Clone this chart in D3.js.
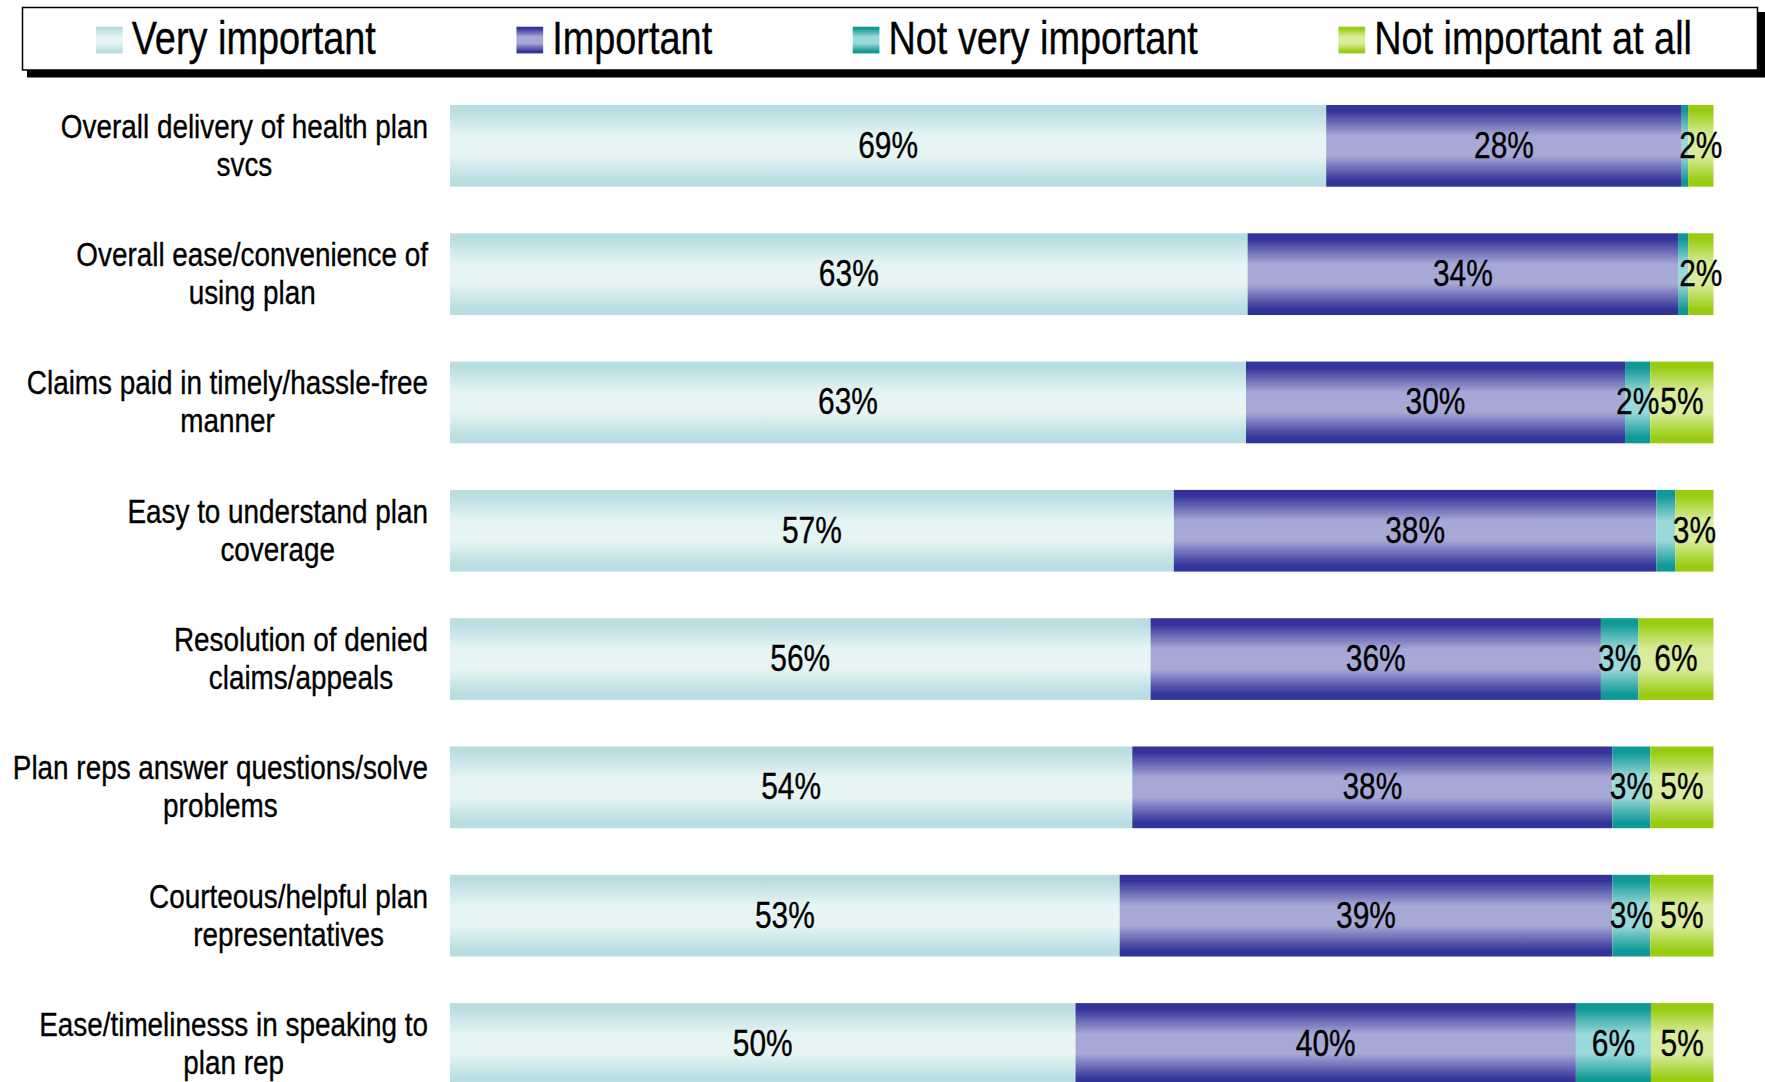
<!DOCTYPE html>
<html>
<head>
<meta charset="utf-8">
<script src="https://cdn.jsdelivr.net/npm/d3@7"></script>
<style>
  html, body { margin: 0; padding: 0; background: #fff; }
  svg { display: block; }
  text { font-family: "Liberation Sans", Arial, sans-serif; fill: #000; stroke: #000; stroke-width: 0.35px; }
</style>
</head>
<body>
<svg id="chart" width="1765" height="1082"></svg>
<script>
// Survey items (line breaks mark where each label wraps)
const categories = [
  "Overall delivery of health plan\nsvcs",
  "Overall ease/convenience of\nusing plan",
  "Claims paid in timely/hassle-free\nmanner",
  "Easy to understand plan\ncoverage",
  "Resolution of denied\nclaims/appeals",
  "Plan reps answer questions/solve\nproblems",
  "Courteous/helpful plan\nrepresentatives",
  "Ease/timelinesss in speaking to\nplan rep"
];
const seriesNames = ["Very important", "Important", "Not very important", "Not important at all"];

// Share of respondents (%) per rating
const veryImportant     = [69, 63, 63, 57, 56, 54, 53, 50];
const important         = [28, 34, 30, 38, 36, 38, 39, 40];
const notVeryImportant  = [0.5, 0.8, 2, 1.5, 3, 3, 3, 6];
const notImportantAtAll = [2, 2, 5, 3, 6, 5, 5, 5];

// Vertical gradient colours: [edge, middle]
const palette = [
  ["#b8dee2", "#e6f4f4"],
  ["#333399", "#a6a8d6"],
  ["#0f9896", "#9ad9d9"],
  ["#99cc11", "#d9ec9c"]
];

const W = 1765, H = 1082;
const svg = d3.select("#chart");
const defs = svg.append("defs");

palette.forEach((c, i) => {
  const g = defs.append("linearGradient")
    .attr("id", "grad" + i)
    .attr("x1", 0).attr("y1", 0).attr("x2", 0).attr("y2", 1);
  [[0, c[0]], [0.07, c[0]], [0.38, c[1]], [0.62, c[1]], [0.93, c[0]], [1, c[0]]]
    .forEach(([o, col]) => g.append("stop").attr("offset", o).attr("stop-color", col));
});

const seriesValues = [veryImportant, important, notVeryImportant, notImportantAtAll];
const rows = categories.map((c, i) => {
  const r = { category: c };
  seriesNames.forEach((s, k) => { r[s] = seriesValues[k][i]; });
  return r;
});

// 100% stacked layout
const stack = d3.stack().keys(seriesNames).offset(d3.stackOffsetExpand);
const layers = stack(rows);

const x = d3.scaleLinear().domain([0, 1]).range([450, 1713.5]);
const step = 128.3;
const y = d3.scaleBand()
  .domain(categories)
  .range([81.7, 81.7 + step * categories.length])
  .paddingInner(0.363)
  .paddingOuter(0.1815);

// Condensed text: regular sans squeezed horizontally
const NARROW = 0.82;
function narrowText(sel, px, py, str, size, anchor) {
  return sel.append("text")
    .attr("transform", `translate(${px},${py}) scale(${NARROW},1)`)
    .attr("text-anchor", anchor || "start")
    .style("font-size", size + "px")
    .text(str);
}
function narrowWidth(sel, str, size) {
  const t = narrowText(sel, 0, -200, str, size);
  const w = t.node().getComputedTextLength() * NARROW;
  t.remove();
  return w;
}

// ---- Legend ----
const lg = svg.append("g");
lg.append("rect").attr("x", 27).attr("y", 12).attr("width", W - 27).attr("height", 65.5).attr("fill", "#000");
lg.append("rect").attr("x", 22.5).attr("y", 7.5).attr("width", 1735).attr("height", 62.5)
  .attr("fill", "#fff").attr("stroke", "#000").attr("stroke-width", 1.5);

const legFont = 46.2, sw = 26.7, swGap = 9;
const legLeft = 96, legRight = 1692;
const itemW = seriesNames.map(s => sw + swGap + narrowWidth(lg, s, legFont));
const gap = (legRight - legLeft - d3.sum(itemW)) / (seriesNames.length - 1);
let lx = legLeft;
seriesNames.forEach((s, i) => {
  lg.append("rect").attr("x", lx).attr("y", 26.7).attr("width", sw).attr("height", sw)
    .attr("fill", `url(#grad${i})`);
  narrowText(lg, lx + sw + swGap, 53.5, s, legFont);
  lx += itemW[i] + gap;
});

// ---- Bars ----
const barG = svg.append("g");
layers.forEach((layer, i) => {
  barG.append("g").selectAll("rect")
    .data(layer)
    .join("rect")
    .attr("x", d => x(d[0]))
    .attr("y", d => y(d.data.category))
    .attr("width", d => x(d[1]) - x(d[0]))
    .attr("height", y.bandwidth())
    .attr("fill", `url(#grad${i})`);
});

// ---- Value labels (small unlabeled slivers are skipped) ----
const valFont = 36.5;
const labG = svg.append("g");
layers.forEach(layer => {
  layer.forEach(d => {
    const v = d.data[layer.key];
    if (v < 2) return;
    const cx = (x(d[0]) + x(d[1])) / 2;
    const cy = y(d.data.category) + y.bandwidth() / 2;
    narrowText(labG, cx, cy + 12, d3.format(".0f")(v) + "%", valFont, "middle");
  });
});

// ---- Category labels: lines centred, block right-aligned ----
const catFont = 34, lineH = 38, labelRight = 428;
const catG = svg.append("g");
categories.forEach(c => {
  const lines = c.split("\n");
  const cy = y(c) + y.bandwidth() / 2;
  const maxW = d3.max(lines, l => narrowWidth(catG, l, catFont));
  const cx = labelRight - maxW / 2;
  lines.forEach((l, k) => {
    const by = cy + (k - (lines.length - 1) / 2) * lineH + 11;
    narrowText(catG, cx, by, l, catFont, "middle");
  });
});
</script>
</body>
</html>
